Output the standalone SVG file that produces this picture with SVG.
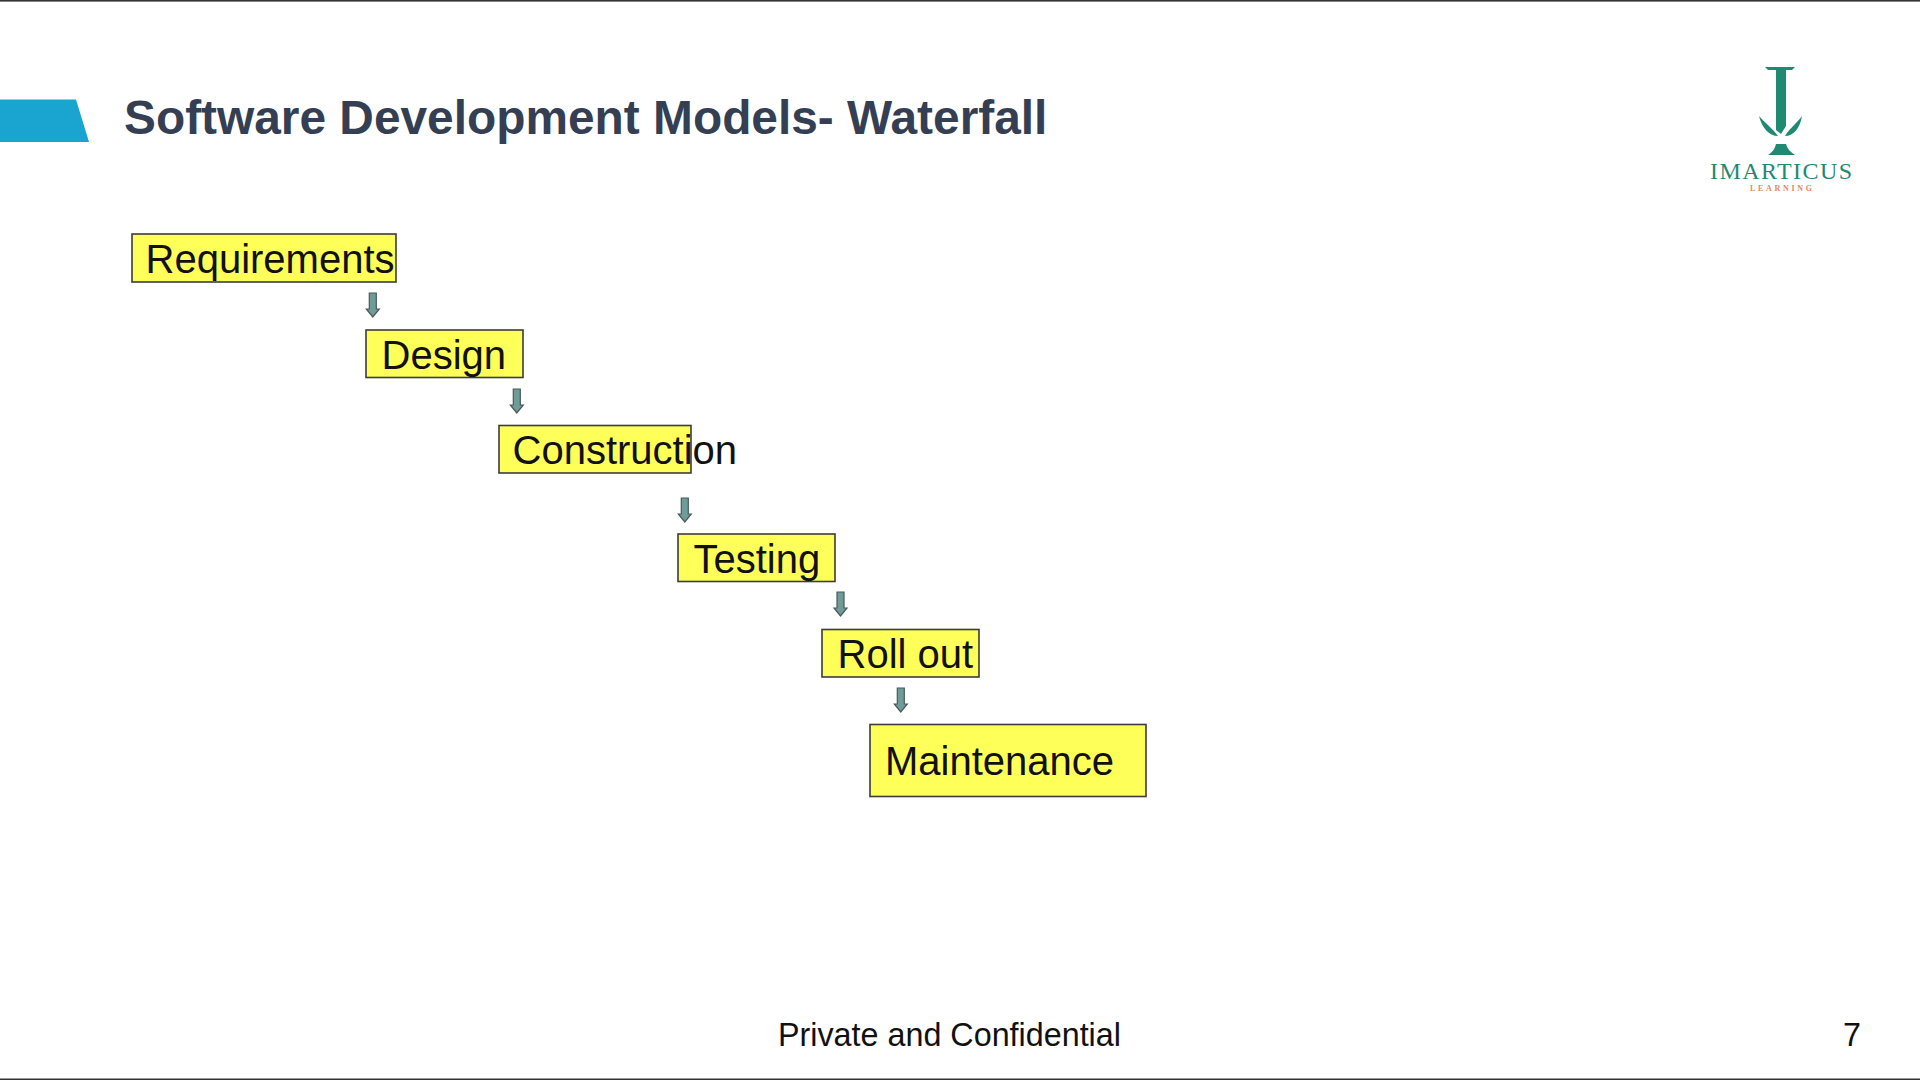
<svg xmlns="http://www.w3.org/2000/svg" width="1920" height="1080" viewBox="0 0 1920 1080">
<style>
.box{fill:#ffff5a;stroke:#3c3c3c;stroke-width:1.6}
.lbl{font-family:"Liberation Sans",Arial,sans-serif;font-size:40px;fill:#111}
.arr{fill:#6f9c98;stroke:#4a5a58;stroke-width:1.2}
.foot{font-family:"Liberation Sans",Arial,sans-serif;font-size:32.300px;fill:#111}
.lg{fill:#1f8a72}
</style>
<defs>
<path id="a" d="M-3.500 0H3.500V16H6.500L0 24L-6.500 16H-3.500Z"/>
</defs>
<rect width="1920" height="1080" fill="#fff"/>
<rect x="0" y="0" width="1920" height="1.600" fill="#333"/>
<rect x="0" y="1078.500" width="1920" height="1.500" fill="#333"/>
<polygon points="0,99.500 76,99.500 89,142 0,142" fill="#19a5cf"/>
<text x="124" y="134" font-family="'Liberation Sans',Arial,sans-serif" font-weight="700" font-size="47.850px" fill="#353f54">Software Development Models- Waterfall</text>
<g id="logo">
<path class="lg" d="M1765 67H1795L1792 70H1786V126L1781 134L1776 130V70H1768Z"/>
<path class="lg" d="M1759 116C1764 122 1772 128 1778 136C1769 136 1762 128 1759 116Z"/>
<path class="lg" d="M1802 116C1798 122 1790 128 1785 136C1794 136 1800 128 1802 116Z"/>
<path class="lg" d="M1768 155C1773 152 1775 148 1776 144H1786C1787 148 1790 152 1795 155Z"/>
<text x="1710" y="179" font-family="'Liberation Serif',serif" font-size="24px" fill="#1f8a72" textLength="142">IMARTICUS</text>
<text x="1750" y="191" font-family="'Liberation Serif',serif" font-size="8px" font-weight="700" fill="#e08a60" textLength="62">LEARNING</text>
</g>
<g id="connectors">
<use href="#a" class="arr" x="372.800" y="293"/>
<use href="#a" class="arr" x="516.800" y="389"/>
<use href="#a" class="arr" x="684.800" y="498"/>
<use href="#a" class="arr" x="840.500" y="592"/>
<use href="#a" class="arr" x="900.800" y="688"/>
</g>
<g id="requirements"><rect class="box" x="132" y="234" width="264" height="48"/><text class="lbl" x="145.500" y="273">Requirements</text></g>
<g id="design"><rect class="box" x="366" y="330" width="157" height="47.500"/><text class="lbl" x="381.500" y="369">Design</text></g>
<g id="construction"><rect class="box" x="499" y="425.500" width="192" height="47.500"/><text class="lbl" x="512.500" y="464">Construction</text></g>
<g id="testing"><rect class="box" x="678" y="534" width="157" height="47.500"/><text class="lbl" x="693.500" y="573">Testing</text></g>
<g id="rollout"><rect class="box" x="822" y="629.500" width="157" height="47.500"/><text class="lbl" x="837.500" y="668">Roll out</text></g>
<g id="maintenance"><rect class="box" x="870" y="724.500" width="276" height="72"/><text class="lbl" x="885" y="775">Maintenance</text></g>
<text class="foot" x="778" y="1046">Private and Confidential</text>
<text class="foot" x="1843" y="1046">7</text>
</svg>
